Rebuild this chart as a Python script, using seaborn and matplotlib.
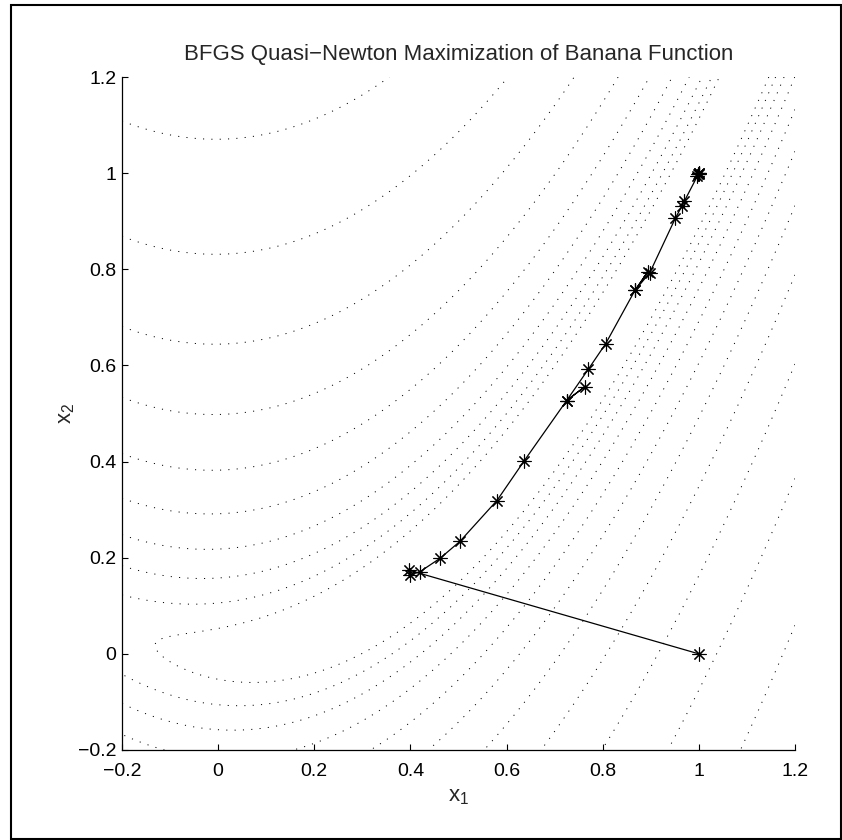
import numpy as np
import pandas as pd
import seaborn as sns
import matplotlib.pyplot as plt
from matplotlib.patches import Rectangle

# contour levels of the banana function
levels = [1.28, 2.12, 3.49, 5.75, 9.49, 15.6, 25.8, 42.5, 70.1, 115.6,
          190.6, 314.2, 518.0]

# BFGS iterates (x1, x2)
path_x1 = [1.000, 0.397, 0.399, 0.420, 0.462, 0.503, 0.580, 0.637, 0.725, 0.763,
           0.725, 0.770, 0.806, 0.867, 0.894, 0.867, 0.898, 0.951, 0.965, 0.970,
           0.997, 0.999, 1.000, 1.001, 1.000]
path_x2 = [0.000, 0.174, 0.164, 0.171, 0.199, 0.234, 0.319, 0.402, 0.527, 0.556,
           0.527, 0.592, 0.645, 0.756, 0.795, 0.756, 0.793, 0.906, 0.932, 0.942,
           0.994, 0.998, 1.000, 1.001, 0.999]

sns.set_style("white")
plt.rcParams['font.family'] = ['Liberation Sans', 'DejaVu Sans']
plt.rcParams['mathtext.fontset'] = 'custom'
plt.rcParams['mathtext.rm'] = 'Liberation Sans'
plt.rcParams['mathtext.it'] = 'Liberation Sans'
plt.rcParams['lines.scale_dashes'] = False

fig = plt.figure(figsize=(8.42, 8.40), dpi=100)
ax = fig.add_axes([122 / 842, 90 / 840, 673 / 842, 673 / 840])

# banana function surface for the contours
g1 = np.linspace(-0.2, 1.2, 400)
g2 = np.linspace(-0.2, 1.2, 400)
X1, X2 = np.meshgrid(g1, g2)
Z = 100 * (X2 - X1 ** 2) ** 2 + (1 - X1) ** 2
ax.contour(X1, X2, Z, levels=levels, colors='k', linewidths=0.7,
           linestyles=[(0, (0.8, 5.2))])

df = pd.DataFrame({'x1': path_x1, 'x2': path_x2})
sns.lineplot(data=df, x='x1', y='x2', sort=False, estimator=None, ax=ax,
             color='k', lw=0.9, marker=(8, 2, 0), ms=10, mec='k', mew=0.8)

ax.set_xlim(-0.2, 1.2)
ax.set_ylim(-0.2, 1.2)
ticks = [-0.2, 0, 0.2, 0.4, 0.6, 0.8, 1, 1.2]
labels = ['\u22120.2', '0', '0.2', '0.4', '0.6', '0.8', '1', '1.2']
ax.set_xticks(ticks)
ax.set_xticklabels(labels)
ax.set_yticks(ticks)
ax.set_yticklabels(labels)
ax.tick_params(direction='in', length=4, width=0.8, labelsize=14, pad=4,
               bottom=True, left=True, colors='k')
ax.tick_params(axis='x', pad=9)
sns.despine(ax=ax)
for s in ['left', 'bottom']:
    ax.spines[s].set_color('k')
    ax.spines[s].set_linewidth(0.9)

ax.set_title('BFGS Quasi\u2212Newton Maximization of Banana Function',
             fontsize=16, pad=12)
ax.set_xlabel('x$_1$', fontsize=16, labelpad=5)
ax.set_ylabel('x$_2$', fontsize=16, labelpad=1)

fig.patches.append(Rectangle((11 / 842, 1 / 840), 830 / 842, 834 / 840,
                             transform=fig.transFigure, fill=False,
                             edgecolor='k', lw=1.5))

fig.savefig('out.png', dpi=100)
